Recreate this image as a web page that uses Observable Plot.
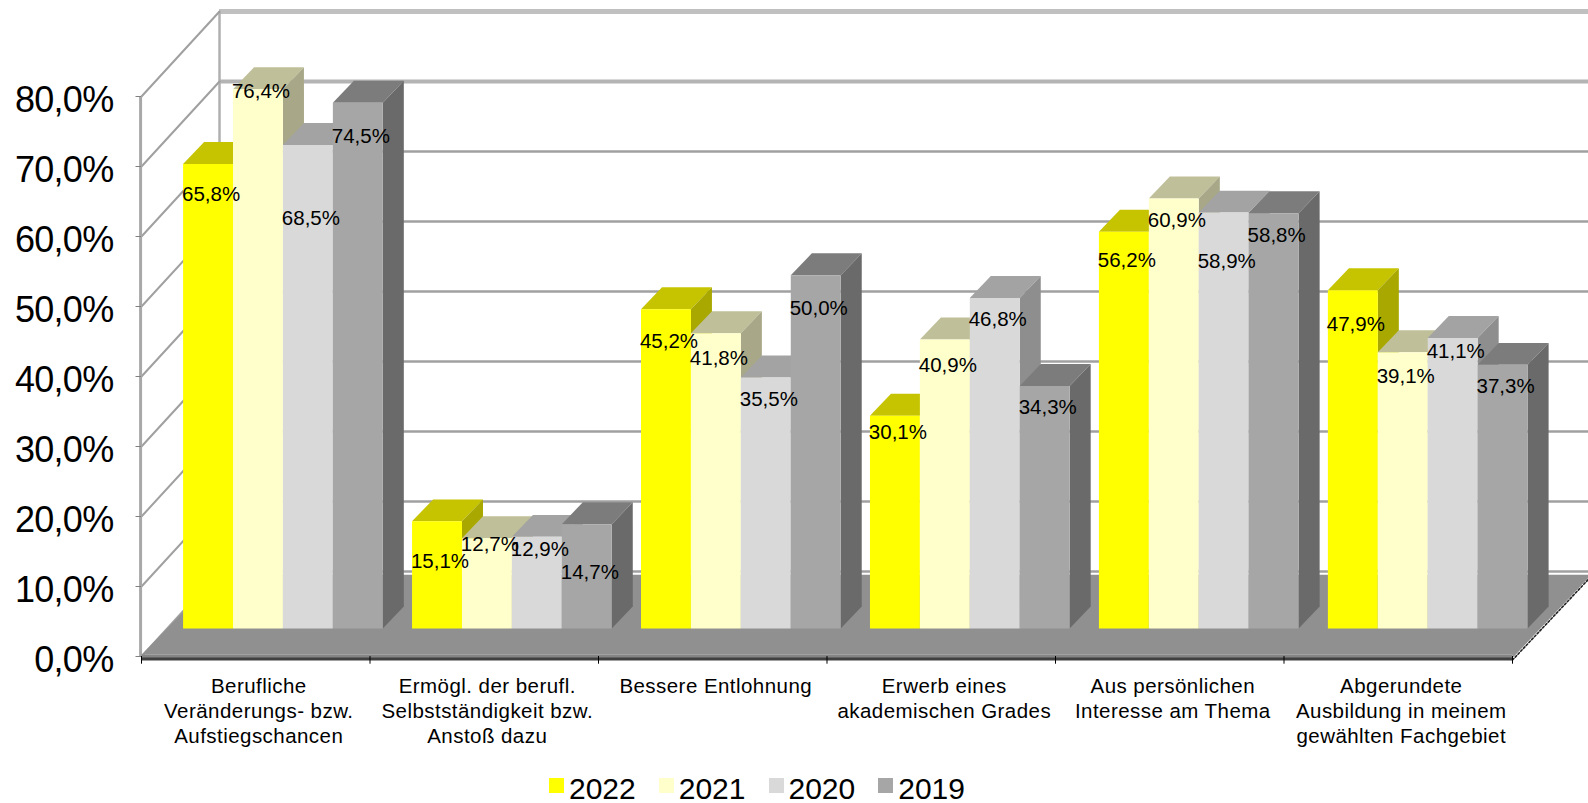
<!DOCTYPE html>
<html lang="de">
<head>
<meta charset="utf-8">
<script src="https://cdn.jsdelivr.net/npm/d3@7"></script>
<script src="https://cdn.jsdelivr.net/npm/@observablehq/plot@0.6"></script>
<style>
  html, body { margin: 0; padding: 0; background: #fff; overflow: hidden; }
  #chart svg { display: block; }
  g[aria-label="y-axis tick label"] text { letter-spacing: -0.7px; }
  #legend { display: flex; align-items: center; height: 33px; padding-left: 549px;
            font: 30px "Liberation Sans", Arial, sans-serif; color: #000; }
  #legend span.sw { width: 15px; height: 15px; display: inline-block; margin-right: 5px; position: relative; top: -1px; }
  #legend span.lb { margin-right: 23px; position: relative; top: 2px; }
</style>
</head>
<body>
<div id="chart"></div>
<div id="legend"></div>
<script>
const categories = [
  "Berufliche\nVeränderungs- bzw.\nAufstiegschancen",
  "Ermögl. der berufl.\nSelbstständigkeit bzw.\nAnstoß dazu",
  "Bessere Entlohnung",
  "Erwerb eines\nakademischen Grades",
  "Aus persönlichen\nInteresse am Thema",
  "Abgerundete\nAusbildung in meinem\ngewählten Fachgebiet"
];
const years = ["2022", "2021", "2020", "2019"];
const v2022 = [65.8, 15.1, 45.2, 30.1, 56.2, 47.9];
const v2021 = [76.4, 12.7, 41.8, 40.9, 60.9, 39.1];
const v2020 = [68.5, 12.9, 35.5, 46.8, 58.9, 41.1];
const v2019 = [74.5, 14.7, 50.0, 34.3, 58.8, 37.3];
const seriesValues = [v2022, v2021, v2020, v2019];
const yTicks = [0, 10, 20, 30, 40, 50, 60, 70, 80];

// Height (on the value axis) at which the chart's data labels were placed
const level2022 = [61.4, 8.9, 40.3, 27.4, 51.9, 42.8];
const level2021 = [76.1, 11.4, 38.0, 37.0, 57.7, 35.3];
const level2020 = [58.0, 10.7, 32.1, 43.5, 51.8, 38.9];
const level2019 = [69.7, 7.3, 45.1, 30.9, 55.5, 34.0];
const labelLevels = [level2022, level2021, level2020, level2019];

// Styles: front, top, side
const front = ["#ffff00", "#ffffcc", "#d9d9d9", "#a6a6a6"];
const topFace = ["#c6c400", "#bfbf99", "#a3a3a3", "#7c7c7c"];
const sideFace = ["#a8a800", "#a8a888", "#8e8e8e", "#6a6a6a"];

// Oblique projection, in scale units
const wallDX = 0.3414, wallDY = 12.14;   // full depth of the chart box
const barDX = 0.092, barDY = 3.14;       // depth of one bar
const catStep = 1.002, barStart = 0.182, barW = 0.2185;  // bar layout within a category
const barLift = 4.64, barBase = 4.0;     // front plane of the bars relative to the axis
const barGain = 1.007, barTopLift = 4.1; // perspective gain of the bar plane

const polys = [];
function poly(id, fill, pts) { for (const [x, y] of pts) polys.push({id, fill, x, y}); }

categories.forEach((_, c) => {
  seriesValues.forEach((vals, s) => {
    const x0 = c * catStep + barStart + s * barW, x1 = x0 + barW;
    const t = vals[c] * barGain + barTopLift, b = barBase;
    poly(`t${c}${s}`, topFace[s], [[x0, t], [x1, t], [x1 + barDX, t + barDY], [x0 + barDX, t + barDY]]);
    poly(`s${c}${s}`, sideFace[s], [[x1, b], [x1 + barDX, b + barDY], [x1 + barDX, t + barDY], [x1, t]]);
    poly(`f${c}${s}`, front[s], [[x0, b], [x1, b], [x1, t], [x0, t]]);
  });
});

const labels = seriesValues.flatMap((vals, s) => vals.map((v, c) => ({
  text: v.toFixed(1).replace(".", ",") + "%",
  x: c * catStep + barStart + (s + 0.5) * barW,
  y: labelLevels[s][c] + barLift
})));

const floor = [
  {x: 0, y: 0.25}, {x: 6, y: 0.25}, {x: 6, y: -0.2},
  {x: 6 + wallDX, y: wallDY - 0.6}, {x: 6 + wallDX, y: wallDY - 0.45}, {x: wallDX, y: wallDY - 0.45}
];
const floorLip = [
  {x: 0, y: 0.25}, {x: 6, y: 0.25}, {x: 6, y: -0.2}, {x: 0, y: -0.2}
];
const sideEdge = [{x: 6, y: -0.5}, {x: 6 + wallDX, y: wallDY - 0.8}];
const diagonals = yTicks.flatMap(t => [
  {t, x: 0, y: t}, {t, x: wallDX, y: t + wallDY}
]);

const chart = Plot.plot({
  width: 1588, height: 770,
  marginLeft: 141, marginRight: 76, marginTop: 96, marginBottom: 114,
  style: {fontFamily: "'Liberation Sans', Arial, sans-serif", background: "#fff", color: "#000", overflow: "visible"},
  x: {domain: [0, 6], axis: null},
  y: {domain: [0, 80], axis: null},
  color: {type: "identity"},
  marks: [
    // back wall grid
    Plot.ruleY([80], {x1: wallDX, x2: 6 + wallDX, y: d => d + wallDY, stroke: "#c0c0c0", strokeWidth: 5}),
    Plot.ruleY([70], {x1: wallDX, x2: 6 + wallDX, y: d => d + wallDY, stroke: "#b4b4b4", strokeWidth: 4}),
    Plot.ruleY(yTicks.slice(0, 7), {x1: wallDX, x2: 6 + wallDX, y: d => d + wallDY, stroke: "#a0a0a0", strokeWidth: 2.4}),
    Plot.ruleX([wallDX], {y1: wallDY, y2: 80 + wallDY, stroke: "#b0b0b0", strokeWidth: 2.5}),
    // left wall
    Plot.line(diagonals, {x: "x", y: "y", z: "t", stroke: "#a0a0a0", strokeWidth: 2}),
    Plot.ruleX([-0.004], {y1: 0, y2: 80, stroke: "#a8a8a8", strokeWidth: 3}),
    Plot.ruleY(yTicks, {x1: -0.024, x2: 0, stroke: "#808080", strokeWidth: 1}),
    // floor
    Plot.line(floor, {x: "x", y: "y", fill: "#909090", stroke: "none"}),
    Plot.line(floorLip, {x: "x", y: "y", fill: "#858585", stroke: "none"}),
    Plot.ruleY([-0.35], {x1: 0, x2: 6, stroke: "#404040", strokeWidth: 3}),
    Plot.line(sideEdge, {x: "x", y: "y", stroke: "#222", strokeWidth: 1.6, strokeDasharray: "2 2"}),
    // category ticks
    Plot.ruleX(d3.range(0, 7), {y1: 0, y2: -1.1, stroke: "#000", strokeWidth: 1}),
    // bars
    Plot.line(polys, {x: "x", y: "y", z: "id", fill: "fill", stroke: "none"}),
    // axes and text
    Plot.axisY(yTicks, {anchor: "left", tickSize: 0, tickPadding: 28, fontSize: 36, label: null, dy: 4,
      tickFormat: d => d.toFixed(1).replace(".", ",") + "%"}),
    Plot.text(categories, {
      x: (_, i) => i + 0.5, y: -2.7, dx: 3, text: d => d, lineAnchor: "top",
      fontSize: 20.5, lineHeight: 1.22, fill: "#000"
    }),
    Plot.text(labels, {x: "x", y: "y", text: "text", dx: 3, fontSize: 20.5, fill: "#000"})
  ]
});
chart.querySelectorAll('g[aria-label="text"]')[0].style.letterSpacing = "0.45px";
document.getElementById("chart").append(chart);

const legend = document.getElementById("legend");
years.forEach((y, i) => {
  const sw = document.createElement("span"); sw.className = "sw"; sw.style.background = front[i];
  const lb = document.createElement("span"); lb.className = "lb"; lb.textContent = y;
  legend.append(sw, lb);
});
</script>
</body>
</html>
